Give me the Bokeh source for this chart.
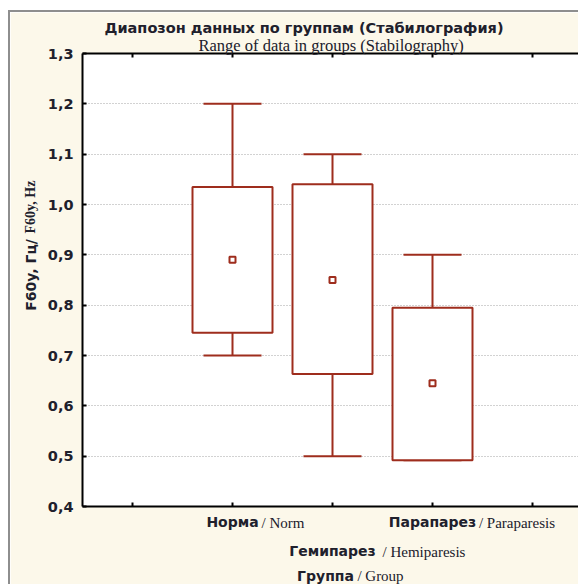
from bokeh.embed import file_html
from bokeh.models import (AllLabels, ColumnDataSource, FixedTicker, Grid,
                          LinearAxis, Range1d, Title)
from bokeh.plotting import figure
from bokeh.resources import INLINE

# ---- data -------------------------------------------------------------
groups_ru = ["Норма", "Гемипарез", "Парапарез"]
groups_en = ["Norm", "Hemiparesis", "Paraparesis"]
group_pos = [1, 2, 3]

whisker_hi = [1.20, 1.10, 0.90]
box_hi = [1.035, 1.04, 0.795]
means = [0.89, 0.85, 0.645]
box_lo = [0.745, 0.663, 0.492]
whisker_lo = [0.70, 0.50, 0.492]

y_ticks = [0.4, 0.5, 0.6, 0.7, 0.8, 0.9, 1.0, 1.1, 1.2, 1.3]
y_tick_labels = ["0,4", "0,5", "0,6", "0,7", "0,8", "0,9", "1,0", "1,1", "1,2", "1,3"]
x_ticks = [0, 1, 2, 3, 4]

title_ru = "Диапозон данных по группам (Стабилография)"
title_en = "Range of data in groups (Stabilography)"
y_label_ru = "F60y, Гц/"
y_label_en = "F60y, Hz"
x_label_ru = "Группа"
x_label_en = "Group"

# ---- style / layout constants -------------------------------------------
BG = "#fcf8ea"
RED = "#9e2d1d"
INK = "#20202c"
SANS = "DejaVu Sans"
SERIF = "Liberation Serif"
BOX_W = 0.8
CAP_W = 0.58
EN_SHIFT = [0.505, 0.915, 0.845]     # English part of each category label
LABEL_ROW = [0, 1, 0]                # staggered category labels
GROUP_RU_AT, GROUP_EN_AT = 1.93, 2.48
Y_RU_AT, Y_EN_AT = 0.860, 0.995

p = figure(width=570, height=574,
           x_range=Range1d(-0.5, 4.47), y_range=Range1d(0.4, 1.3),
           x_axis_location=None, y_axis_location=None,
           output_backend="svg", toolbar_location=None,
           min_border_left=72, min_border_right=1,
           min_border_top=41, min_border_bottom=80,
           background_fill_color="white", border_fill_color=BG,
           outline_line_color=None)
p.title.visible = False
p.xgrid.visible = False
p.ygrid.visible = False
p.margin = (10, 0, 0, 8)
p.styles = {"border-left": "2px solid #8e8e8e", "border-top": "2px solid #8e8e8e"}


def frame_axis(place, ticker):
    ax = LinearAxis(ticker=ticker)
    ax.axis_line_color = "black"
    ax.axis_line_width = 2
    for kind in ("major", "minor"):
        setattr(ax, f"{kind}_tick_line_color", "black")
        setattr(ax, f"{kind}_tick_line_width", 2)
        setattr(ax, f"{kind}_tick_in", 4)
        setattr(ax, f"{kind}_tick_out", 0)
    p.add_layout(ax, place)
    return ax


def text_axis(place, ticks, labels, font, size, standoff, bold=False,
              orientation="horizontal"):
    ax = LinearAxis(ticker=FixedTicker(ticks=ticks),
                    major_label_overrides=dict(zip(ticks, labels)),
                    major_label_policy=AllLabels())
    ax.axis_line_color = None
    ax.major_tick_line_color = None
    ax.minor_tick_line_color = None
    ax.major_tick_in = ax.major_tick_out = 0
    ax.minor_tick_in = ax.minor_tick_out = 0
    ax.major_label_text_font = font
    ax.major_label_text_font_size = size
    ax.major_label_text_font_style = "bold" if bold else "normal"
    ax.major_label_text_color = INK
    ax.major_label_standoff = standoff
    ax.major_label_orientation = orientation
    p.add_layout(ax, place)
    return ax


# value axis on the left
left = frame_axis("left", FixedTicker(ticks=y_ticks))
left.major_label_overrides = dict(zip(y_ticks, y_tick_labels))
left.major_label_text_font = SANS
left.major_label_text_font_style = "bold"
left.major_label_text_font_size = "14.5px"
left.major_label_text_color = INK
left.major_label_standoff = 9

# frame edges with tick marks only
frame_axis("below", FixedTicker(ticks=[], minor_ticks=x_ticks))
frame_axis("above", FixedTicker(ticks=[], minor_ticks=x_ticks))

# category labels, first row then second row
for row, gap in ((0, 7), (1, 9)):
    idx = [i for i, r in enumerate(LABEL_ROW) if r == row]
    text_axis("below", [group_pos[i] for i in idx], [groups_ru[i] for i in idx],
              SANS, "14px", gap, bold=True)
    text_axis("below", [group_pos[i] + EN_SHIFT[i] for i in idx],
              ["/ " + groups_en[i] for i in idx], SERIF, "15px", -18)

# x axis title
text_axis("below", [GROUP_EN_AT], ["/ " + x_label_en], SERIF, "15px", 5)
text_axis("below", [GROUP_RU_AT], [x_label_ru], SANS, "14px", -19, bold=True)

# y axis title
text_axis("left", [Y_RU_AT], [y_label_ru], SANS, "14px", 5, bold=True,
          orientation="vertical")
text_axis("left", [Y_EN_AT], [y_label_en], SERIF, "14px", -18, bold=True,
          orientation="vertical")

# chart titles
p.add_layout(Title(text=title_en, align="left", offset=116, standoff=-3,
                   text_font=SERIF, text_font_size="16.5px",
                   text_font_style="normal", text_color=INK), "above")
p.add_layout(Title(text=title_ru, align="left", offset=22, standoff=0,
                   text_font=SANS, text_font_size="14.5px",
                   text_font_style="bold", text_color=INK), "above")

grid = Grid(dimension=1, ticker=FixedTicker(ticks=y_ticks[1:-1]),
            grid_line_color="#a4a4a4", grid_line_dash="1 2", grid_line_width=1)
p.add_layout(grid)

# ---- boxes, whiskers and means ----------------------------------------
src = ColumnDataSource(dict(
    x=group_pos, box_hi=box_hi, box_lo=box_lo,
    w_hi=whisker_hi, w_lo=whisker_lo, mean=means,
    cap_l=[x - CAP_W / 2 for x in group_pos],
    cap_r=[x + CAP_W / 2 for x in group_pos],
))

p.segment(x0="x", y0="box_hi", x1="x", y1="w_hi", source=src,
          line_color=RED, line_width=2)
p.segment(x0="x", y0="box_lo", x1="x", y1="w_lo", source=src,
          line_color=RED, line_width=2)
p.segment(x0="cap_l", y0="w_hi", x1="cap_r", y1="w_hi", source=src,
          line_color=RED, line_width=2)
p.segment(x0="cap_l", y0="w_lo", x1="cap_r", y1="w_lo", source=src,
          line_color=RED, line_width=2)
p.vbar(x="x", width=BOX_W, top="box_hi", bottom="box_lo", source=src,
       fill_color="white", line_color=RED, line_width=2)
p.scatter(x="x", y="mean", source=src, marker="square", size=6,
          fill_color="white", line_color=RED, line_width=2)

open("out.html", "w").write(file_html(p, INLINE))
